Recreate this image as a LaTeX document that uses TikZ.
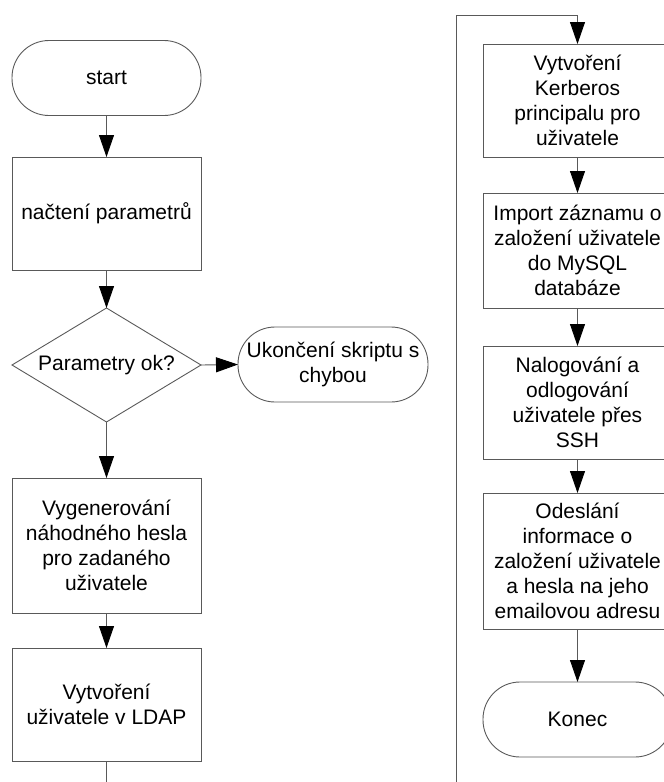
\documentclass[tikz,border=0pt]{standalone}
\usepackage{fontspec}
\setmainfont{Liberation Sans}
\usetikzlibrary{arrows.meta,shapes.geometric}
\begin{document}
\begin{tikzpicture}[x=1pt,y=-1pt,
  every node/.style={font=\fontsize{21}{25}\selectfont, align=center, inner sep=0pt, outer sep=0pt},
  line/.style={draw=black!65, line width=0.9pt},
  procbox/.style={line, rectangle, minimum width=189pt},
  termbox/.style={line, rectangle, rounded corners=37pt, minimum width=189pt, minimum height=75pt},
  decbox/.style={line, diamond, minimum width=189pt, minimum height=114pt, aspect=1.66},
  flow/.style={line, -{Triangle[length=22pt,width=15pt,color=black]}}
]
\useasboundingbox (0,0) rectangle (664,782);
\clip (0,0) rectangle (664,782);
% left column
\node[termbox] (start) at (106.5,78) {start};
\node[procbox, minimum height=113pt] (params) at (106.5,213.5) {načtení parametrů};
\node[decbox] (dec) at (106.5,365) {Parametry ok?};
\node[termbox, minimum width=190pt] (err) at (333,364.5) {Ukončení skriptu s\\chybou};
\node[procbox, minimum height=135pt] (gen) at (106.5,545.5) {Vygenerování\\náhodného hesla\\pro zadaného\\uživatele};
\node[procbox, minimum height=113pt] (ldap) at (106.5,704.5) {Vytvoření\\uživatele v LDAP};
% right column
\node[procbox, minimum height=113pt] (kerb) at (577.5,100.5) {Vytvoření\\Kerberos\\principalu pro\\uživatele};
\node[procbox, minimum height=115pt] (imp) at (577.5,250.5) {Import záznamu o\\založení uživatele\\do MySQL\\databáze};
\node[procbox, minimum height=113pt] (ssh) at (577.5,402.5) {Nalogování a\\odlogování\\uživatele přes\\SSH};
\node[procbox, minimum height=136pt] (mail) at (577.5,561) {Odeslání\\informace o\\založení uživatele\\a hesla na jeho\\emailovou adresu};
\node[termbox] (end) at (577.5,719.5) {Konec};
% connector coordinates
\coordinate (b1) at (106.5,790);
\coordinate (b2) at (456,790);
\coordinate (tr) at (456,15);
% connectors
\draw[flow] (start) -- (params);
\draw[flow] (params) -- (dec);
\draw[flow] (dec.east) -- (err.west);
\draw[flow] (dec.south) -- (gen);
\draw[flow] (gen) -- (ldap);
\draw[line] (ldap.south) -- (b1);
\draw[flow] (b2) -- (tr) -| (kerb.north);
\draw[flow] (kerb) -- (imp);
\draw[flow] (imp) -- (ssh);
\draw[flow] (ssh) -- (mail);
\draw[flow] (mail) -- (end);
\end{tikzpicture}
\end{document}
